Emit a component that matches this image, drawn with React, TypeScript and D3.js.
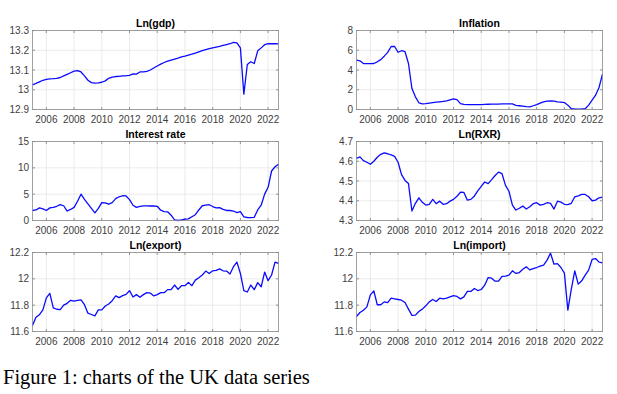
import React from 'react';
import * as d3 from "d3";

// quarterly series, 2005Q1 .. 2022Q4
const startYear = 2005;

const gdp = [
  13.025, 13.032, 13.040, 13.048,
  13.053, 13.055, 13.056, 13.058,
  13.062, 13.070, 13.078, 13.086,
  13.094, 13.097, 13.090, 13.070,
  13.048, 13.036, 13.034, 13.035,
  13.038, 13.045, 13.058, 13.064,
  13.067, 13.068, 13.070, 13.071,
  13.073, 13.080, 13.079, 13.090,
  13.091, 13.093, 13.100, 13.110,
  13.120, 13.130, 13.138, 13.145,
  13.150, 13.155, 13.160, 13.166,
  13.170, 13.175, 13.180, 13.186,
  13.192, 13.198, 13.203, 13.208,
  13.212, 13.216, 13.220, 13.225,
  13.229, 13.233, 13.240, 13.237,
  13.212, 12.978, 13.128, 13.142,
  13.133, 13.197, 13.212, 13.228,
  13.233, 13.233, 13.233, 13.232
];

const inflation = [
  5.0, 4.93, 4.66, 4.64,
  4.64, 4.66, 4.83, 5.05,
  5.4, 5.78, 6.38, 6.38,
  5.8, 5.95, 5.85, 4.66,
  2.13, 1.28, 0.68, 0.57,
  0.6, 0.65, 0.7, 0.74,
  0.78, 0.82, 0.88, 0.98,
  1.08, 1.0, 0.6, 0.52,
  0.5, 0.5, 0.5, 0.5,
  0.5, 0.52, 0.53, 0.54,
  0.54, 0.55, 0.56, 0.57,
  0.57, 0.57, 0.42, 0.38,
  0.34, 0.3, 0.27, 0.38,
  0.5, 0.65, 0.78, 0.85,
  0.88, 0.85, 0.78, 0.74,
  0.7, 0.44, 0.07, 0.05,
  0.04, 0.05, 0.07, 0.44,
  0.95, 1.45, 2.23, 3.58
];

const interest = [
  1.9, 2.0, 2.4, 2.2,
  1.9, 2.4, 2.5, 2.7,
  3.0, 2.8, 1.8, 2.1,
  2.5, 3.65, 5.0, 4.0,
  3.15, 2.3, 1.45, 2.3,
  3.4, 3.35, 3.1, 3.4,
  4.15, 4.5, 4.7, 4.66,
  3.97, 2.9, 2.5, 2.7,
  2.77, 2.77, 2.75, 2.75,
  2.7, 1.95, 1.7, 1.65,
  1.0, 0.12, 0.0, 0.1,
  0.25, 0.3, 0.7, 1.1,
  2.0, 2.8, 2.9, 3.0,
  2.65, 2.4, 2.45, 2.1,
  1.9, 1.9, 1.8, 1.5,
  1.7, 0.7, 0.57, 0.55,
  0.6, 2.0, 2.9, 5.0,
  6.3, 9.4, 10.2, 10.7
];

const rxr = [
  4.615, 4.622, 4.603, 4.595,
  4.585, 4.600, 4.620, 4.635,
  4.642, 4.638, 4.632, 4.625,
  4.595, 4.532, 4.503, 4.487,
  4.348, 4.387, 4.415, 4.392,
  4.378, 4.382, 4.407, 4.385,
  4.398, 4.382, 4.385, 4.398,
  4.407, 4.423, 4.443, 4.442,
  4.403, 4.407, 4.423, 4.450,
  4.473, 4.495, 4.487, 4.507,
  4.528, 4.545, 4.537, 4.478,
  4.448, 4.378, 4.353, 4.362,
  4.373, 4.358, 4.370, 4.385,
  4.390, 4.378, 4.382, 4.390,
  4.387, 4.358, 4.398, 4.393,
  4.382, 4.380, 4.387, 4.420,
  4.425, 4.432, 4.432, 4.420,
  4.400, 4.403, 4.415, 4.418
];

const exportSeries = [
  11.645, 11.708, 11.728, 11.764,
  11.855, 11.890, 11.779, 11.769,
  11.766, 11.800, 11.814, 11.837,
  11.830, 11.837, 11.840, 11.804,
  11.739, 11.729, 11.719, 11.764,
  11.764, 11.794, 11.809, 11.834,
  11.870, 11.857, 11.872, 11.882,
  11.910, 11.862, 11.880, 11.860,
  11.880, 11.895, 11.892, 11.870,
  11.880, 11.895, 11.895, 11.918,
  11.918, 11.953, 11.920, 11.948,
  11.948, 11.973, 11.948, 11.990,
  12.008, 12.029, 12.059, 12.041,
  12.061, 12.064, 12.076, 12.061,
  12.059, 12.036, 12.092, 12.127,
  12.041, 11.910, 11.900, 11.953,
  11.918, 11.971, 11.940, 12.051,
  11.986, 12.029, 12.127, 12.117
];

const importSeries = [
  11.714, 11.744, 11.762, 11.787,
  11.878, 11.909, 11.803, 11.803,
  11.825, 11.820, 11.853, 11.848,
  11.843, 11.838, 11.820, 11.770,
  11.722, 11.724, 11.752, 11.770,
  11.795, 11.825, 11.843, 11.828,
  11.853, 11.848, 11.853, 11.863,
  11.873, 11.866, 11.848, 11.863,
  11.904, 11.904, 11.927, 11.911,
  11.919, 11.952, 12.010, 12.005,
  11.982, 11.982, 12.018, 12.020,
  12.028, 12.061, 12.041, 12.048,
  12.073, 12.091, 12.068, 12.078,
  12.086, 12.096, 12.104, 12.142,
  12.195, 12.111, 12.116, 12.086,
  12.043, 11.762, 11.922, 12.061,
  11.960, 11.985, 12.028, 12.066,
  12.147, 12.154, 12.127, 12.122
];

const yearTicks = [2006, 2008, 2010, 2012, 2014, 2016, 2018, 2020, 2022];
const gdpTicks = ["12.9", "13", "13.1", "13.2", "13.3"];
const inflationTicks = ["0", "2", "4", "6", "8"];
const interestTicks = ["0", "5", "10", "15"];
const rxrTicks = ["4.3", "4.4", "4.5", "4.6", "4.7"];
const tradeTicks = ["11.6", "11.8", "12", "12.2"];

const font = "'Liberation Sans', Arial, sans-serif";

const Panel = (props: any) => {
  const { title, values, ticks, left, top } = props;
  const w = 246, h = 79;
  const tv = ticks.map(Number);
  const x = d3.scaleLinear().domain([2005, 2022.75]).range([0, w]);
  const y = d3.scaleLinear().domain([tv[0], tv[tv.length - 1]]).range([h, 0]);
  const line = d3.line<number>()
    .x((d, i) => x(startYear + i / 4))
    .y(d => y(d));

  return (
    <g transform={`translate(${left},${top})`}>
      <rect width={w} height={h} fill="#fff" />
      {yearTicks.map(t => (
        <line key={"gx" + t} x1={x(t)} x2={x(t)} y1={0} y2={h} stroke="#e6e6e6" strokeWidth={0.8} />
      ))}
      {tv.map((t: number) => (
        <line key={"gy" + t} x1={0} x2={w} y1={y(t)} y2={y(t)} stroke="#e6e6e6" strokeWidth={0.8} />
      ))}
      {yearTicks.map(t => (
        <g key={"tx" + t}>
          <line x1={x(t)} x2={x(t)} y1={h} y2={h - 2.5} stroke="#555" strokeWidth={0.6} />
          <line x1={x(t)} x2={x(t)} y1={0} y2={2.5} stroke="#555" strokeWidth={0.6} />
          <text x={x(t)} y={h + 13.5} textAnchor="middle" fontSize={10} fontFamily={font} fill="#404040">{t}</text>
        </g>
      ))}
      {tv.map((t: number, i: number) => (
        <g key={"ty" + t}>
          <line x1={0} x2={2.5} y1={y(t)} y2={y(t)} stroke="#555" strokeWidth={0.6} />
          <line x1={w} x2={w - 2.5} y1={y(t)} y2={y(t)} stroke="#555" strokeWidth={0.6} />
          <text x={-3.5} y={y(t) + 3.5} textAnchor="end" fontSize={10} fontFamily={font} fill="#404040">{ticks[i]}</text>
        </g>
      ))}
      <path d={line(values) || ""} fill="none" stroke="#0a0aff" strokeWidth={1.3} strokeLinejoin="round" />
      <rect width={w} height={h} fill="none" stroke="#8a8a8a" strokeWidth={0.8} />
      <text x={w / 2} y={-3.5} textAnchor="middle" fontSize={10.5} fontWeight="bold" fontFamily={font} fill="#000">{title}</text>
    </g>
  );
};

const App = () => {
  return (
    <svg width={617} height={394} style={{ position: "absolute", left: 0, top: 0, background: "#fff" }}>
      <rect width={617} height={394} fill="#fff" />
      <Panel title="Ln(gdp)" values={gdp} ticks={gdpTicks} left={32.5} top={30.5} />
      <Panel title="Inflation" values={inflation} ticks={inflationTicks} left={356.5} top={30.5} />
      <Panel title="Interest rate" values={interest} ticks={interestTicks} left={32.5} top={141.5} />
      <Panel title="Ln(RXR)" values={rxr} ticks={rxrTicks} left={356.5} top={141.5} />
      <Panel title="Ln(export)" values={exportSeries} ticks={tradeTicks} left={32.5} top={252.5} />
      <Panel title="Ln(import)" values={importSeries} ticks={tradeTicks} left={356.5} top={252.5} />
      <text x={3} y={384} fontSize={20.5} fontFamily="'Liberation Serif', 'Times New Roman', serif" fill="#000">
        Figure 1: charts of the UK data series
      </text>
    </svg>
  );
};

export default App;
